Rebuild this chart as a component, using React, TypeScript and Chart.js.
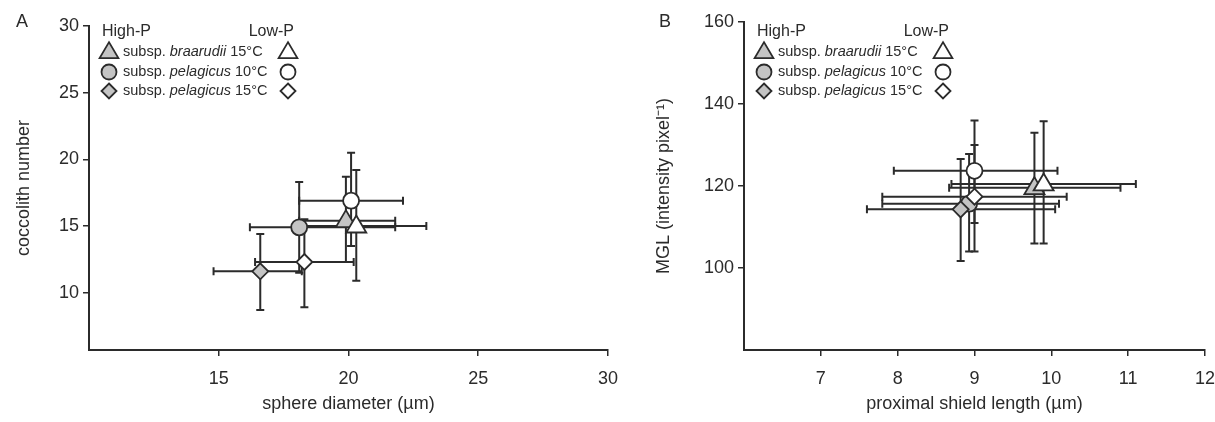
import React, { useEffect, useRef } from "react";
import { Chart, registerables } from "chart.js";
Chart.register(...registerables);

// ---- data ----
const seriesNames = ["braarudii-15-High", "braarudii-15-Low", "pelagicus-10-High", "pelagicus-10-Low", "pelagicus-15-High", "pelagicus-15-Low"];
const seriesShapes = ["triangle", "triangle", "circle", "circle", "rectRot", "rectRot"];
const seriesFilled = [true, false, true, false, true, false];

// Panel A: sphere diameter vs coccolith number
const aX = [19.9, 20.3, 18.1, 20.1, 16.6, 18.3];
const aY = [15.4, 15.0, 14.9, 16.9, 11.6, 12.3];
const aXLo = [18.1, 18.2, 16.2, 18.1, 14.8, 16.4];
const aXHi = [21.8, 23.0, 21.8, 22.1, 18.2, 20.2];
const aYLo = [12.3, 10.9, 11.5, 13.5, 8.7, 8.9];
const aYHi = [18.7, 19.2, 18.3, 20.5, 14.4, 15.5];

// Panel B: proximal shield length vs MGL
const bX = [9.78, 9.9, 8.93, 9.0, 8.82, 9.0];
const bY = [119.6, 120.5, 115.7, 123.7, 114.3, 117.4];
const bXLo = [8.67, 8.7, 7.8, 7.95, 7.6, 7.8];
const bXHi = [10.9, 11.1, 10.1, 10.08, 10.05, 10.2];
const bYLo = [106, 106, 104, 111, 101.7, 104];
const bYHi = [133, 135.8, 127.8, 136, 126.6, 130];

const aXTicks = [15, 20, 25, 30];
const aYTicks = [10, 15, 20, 25, 30];
const bXTicks = [7, 8, 9, 10, 11, 12];
const bYTicks = [100, 120, 140, 160];

const legendRows = [
  ["subsp. ", "braarudii", " 15°C"],
  ["subsp. ", "pelagicus", " 10°C"],
  ["subsp. ", "pelagicus", " 15°C"],
];
const legendShapes = ["triangle", "circle", "rectRot"];

const INK = "#2b2b2b";
const GREY = "#c4c4c4";
const FONT = "Liberation Sans, Arial, sans-serif";

function drawMarker(ctx: CanvasRenderingContext2D, shape: string, x: number, y: number, r: number, filled: boolean) {
  ctx.save();
  ctx.beginPath();
  if (shape === "triangle") {
    const t = r * 1.25;
    ctx.moveTo(x, y - t * 1.05);
    ctx.lineTo(x + t, y + t * 0.65);
    ctx.lineTo(x - t, y + t * 0.65);
    ctx.closePath();
  } else if (shape === "circle") {
    ctx.arc(x, y, r, 0, Math.PI * 2);
  } else {
    const d = r * 1.0;
    ctx.moveTo(x, y - d);
    ctx.lineTo(x + d, y);
    ctx.lineTo(x, y + d);
    ctx.lineTo(x - d, y);
    ctx.closePath();
  }
  ctx.fillStyle = filled ? GREY : "#fff";
  ctx.fill();
  ctx.lineWidth = 1.8;
  ctx.strokeStyle = INK;
  ctx.stroke();
  ctx.restore();
}

type Panel = {
  letter: string;
  xs: number[]; ys: number[]; xlo: number[]; xhi: number[]; ylo: number[]; yhi: number[];
  xmin: number; xmax: number; ymin: number; ymax: number;
  xticks: number[]; yticks: number[];
  left: number; top: number; bottom: number; width: number;
  xTitle: string; yTitle: string; yTitleX: number; letterX: number;
};

function makeChart(canvas: HTMLCanvasElement, p: Panel) {
  const errPlugin = {
    id: "err",
    beforeDatasetsDraw(chart: any) {
      const ctx = chart.ctx;
      const xs = chart.scales.x, ys = chart.scales.y;
      ctx.save();
      ctx.strokeStyle = INK;
      ctx.lineWidth = 2;
      const cap = 4;
      for (let i = 0; i < p.xs.length; i++) {
        const cx = xs.getPixelForValue(p.xs[i]);
        const cy = ys.getPixelForValue(p.ys[i]);
        const x0 = xs.getPixelForValue(p.xlo[i]);
        const x1 = xs.getPixelForValue(p.xhi[i]);
        const y0 = ys.getPixelForValue(p.ylo[i]);
        const y1 = ys.getPixelForValue(p.yhi[i]);
        ctx.beginPath();
        ctx.moveTo(x0, cy); ctx.lineTo(x1, cy);
        ctx.moveTo(x0, cy - cap); ctx.lineTo(x0, cy + cap);
        ctx.moveTo(x1, cy - cap); ctx.lineTo(x1, cy + cap);
        ctx.moveTo(cx, y0); ctx.lineTo(cx, y1);
        ctx.moveTo(cx - cap, y0); ctx.lineTo(cx + cap, y0);
        ctx.moveTo(cx - cap, y1); ctx.lineTo(cx + cap, y1);
        ctx.stroke();
      }
      ctx.restore();
    },
    afterDatasetsDraw(chart: any) {
      const ctx = chart.ctx;
      const xs = chart.scales.x, ys = chart.scales.y;
      for (let i = 0; i < p.xs.length; i++) {
        drawMarker(ctx, seriesShapes[i], xs.getPixelForValue(p.xs[i]), ys.getPixelForValue(p.ys[i]), 8, seriesFilled[i]);
      }
    },
    afterDraw(chart: any) {
      const ctx = chart.ctx;
      const ca = chart.chartArea;
      ctx.save();
      ctx.fillStyle = INK;
      ctx.font = `18px ${FONT}`;
      ctx.textBaseline = "middle";
      ctx.textAlign = "center";
      ctx.fillText(p.letter, p.letterX, 22);
      ctx.fillText(p.xTitle, (ca.left + ca.right) / 2, 404);
      ctx.save();
      ctx.translate(p.yTitleX, (ca.top + ca.bottom) / 2);
      ctx.rotate(-Math.PI / 2);
      ctx.fillText(p.yTitle, 0, 0);
      ctx.restore();
      // legend
      const lx = ca.left + 13;
      ctx.font = `16px ${FONT}`;
      ctx.textAlign = "left";
      ctx.fillText("High-P", lx, 32);
      ctx.textAlign = "right";
      ctx.fillText("Low-P", lx + 192, 32);
      ctx.textAlign = "left";
      const rowsY = [52, 72, 91];
      for (let r = 0; r < 3; r++) {
        const y = rowsY[r];
        drawMarker(ctx, legendShapes[r], lx + 7, y, 7.5, true);
        drawMarker(ctx, legendShapes[r], lx + 186, y, 7.5, false);
        let tx = lx + 21;
        const parts = legendRows[r];
        ctx.fillStyle = INK;
        ctx.font = `14.5px ${FONT}`;
        ctx.fillText(parts[0], tx, y);
        tx += ctx.measureText(parts[0]).width;
        ctx.font = `italic 14.5px ${FONT}`;
        ctx.fillText(parts[1], tx, y);
        tx += ctx.measureText(parts[1]).width;
        ctx.font = `14.5px ${FONT}`;
        ctx.fillText(parts[2], tx, y);
      }
      ctx.restore();
    },
  };

  const points = p.xs.map((x, i) => ({ x, y: p.ys[i] }));
  return new Chart(canvas, {
    type: "scatter",
    data: { datasets: [{ label: "pts", data: points, pointRadius: 0, pointHoverRadius: 0 }] },
    options: {
      animation: false,
      responsive: false,
      events: [],
      layout: { padding: { top: p.top, right: 0, left: 0, bottom: 0 } },
      plugins: { legend: { display: false }, tooltip: { enabled: false } },
      scales: {
        x: {
          type: "linear", min: p.xmin, max: p.xmax,
          afterBuildTicks: (s: any) => { s.ticks = p.xticks.map((v) => ({ value: v })); },
          afterFit: (s: any) => { s.height = 422 - p.bottom; },
          grid: { drawOnChartArea: false, tickLength: 6, color: INK, lineWidth: 1.5 },
          border: { color: INK, width: 2 },
          ticks: { color: INK, font: { size: 18, family: FONT }, padding: 12 },
        },
        y: {
          type: "linear", min: p.ymin, max: p.ymax,
          afterBuildTicks: (s: any) => { s.ticks = p.yticks.map((v) => ({ value: v })); },
          afterFit: (s: any) => { s.width = p.left; },
          grid: { drawOnChartArea: false, tickLength: 6, color: INK, lineWidth: 1.5 },
          border: { color: INK, width: 2 },
          ticks: { color: INK, font: { size: 18, family: FONT }, padding: 4 },
        },
      },
    },
    plugins: [errPlugin],
  } as any);
}

const panelA: Panel = {
  letter: "A", xs: aX, ys: aY, xlo: aXLo, xhi: aXHi, ylo: aYLo, yhi: aYHi,
  xmin: 10, xmax: 30, ymin: 5.7, ymax: 30, xticks: aXTicks, yticks: aYTicks,
  left: 89, top: 26, bottom: 350, width: 630,
  xTitle: "sphere diameter (µm)", yTitle: "coccolith number", yTitleX: 24, letterX: 22,
};
const panelB: Panel = {
  letter: "B", xs: bX, ys: bY, xlo: bXLo, xhi: bXHi, ylo: bYLo, yhi: bYHi,
  xmin: 6, xmax: 12, ymin: 80, ymax: 160, xticks: bXTicks, yticks: bYTicks,
  left: 134, top: 22, bottom: 350, width: 617,
  xTitle: "proximal shield length (µm)", yTitle: "MGL (intensity pixel⁻¹)", yTitleX: 54, letterX: 55,
};

export default function App() {
  const ra = useRef<HTMLCanvasElement>(null);
  const rb = useRef<HTMLCanvasElement>(null);
  useEffect(() => {
    const ca = makeChart(ra.current!, panelA);
    const cb = makeChart(rb.current!, panelB);
    return () => { ca.destroy(); cb.destroy(); };
  }, []);
  return (
    <div style={{ position: "absolute", left: 0, top: 0, width: 1215, height: 422, background: "#fff", overflow: "hidden" }}>
      <canvas ref={ra} width={630} height={422} style={{ position: "absolute", left: 0, top: 0, width: 630, height: 422 }} />
      <canvas ref={rb} width={617} height={422} style={{ position: "absolute", left: 610, top: 0, width: 617, height: 422 }} />
    </div>
  );
}
